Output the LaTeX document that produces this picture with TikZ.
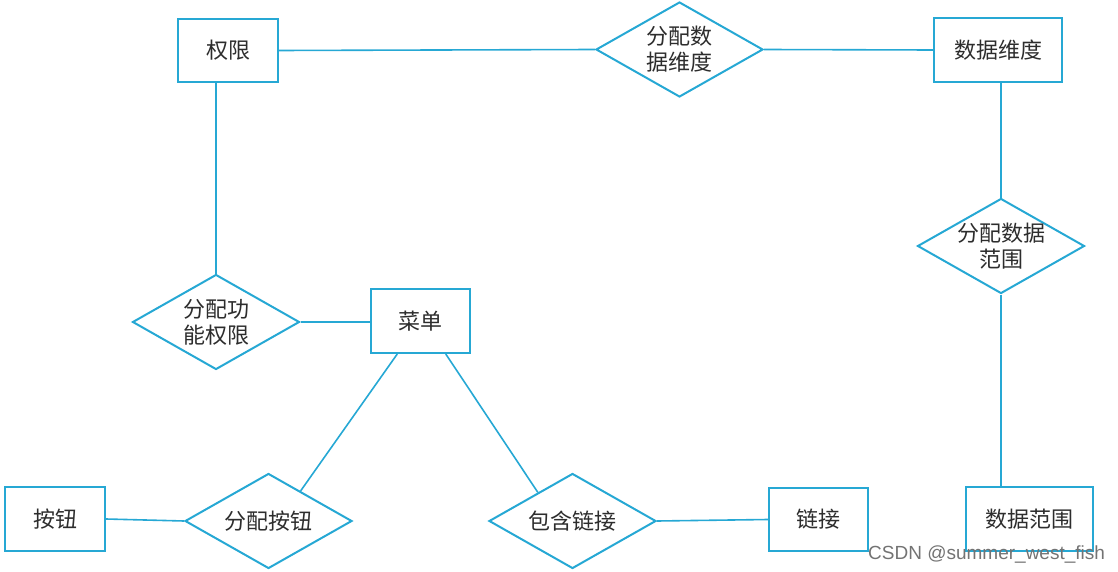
\documentclass[tikz,border=0pt]{standalone}
\usepackage{fontspec}
\newfontfamily\cjk{Noto Sans CJK SC}
\newfontfamily\wm{Liberation Sans}
\usetikzlibrary{shapes.geometric,calc}
\definecolor{erblue}{RGB}{38,168,212}
\definecolor{txt}{RGB}{45,45,45}
\tikzset{
  ent/.style={draw=erblue, line width=2pt, fill=white, inner sep=0pt, font=\cjk\fontsize{22}{26}\selectfont, text=txt, align=center},
  rel/.style={draw=erblue, line width=2pt, fill=white, diamond, inner sep=0pt, minimum width=167pt, minimum height=95pt},
  rtext/.style={font=\cjk\fontsize{22}{26}\selectfont, text=txt, align=center, inner sep=0pt},
  conn/.style={draw=erblue, line width=1.6pt}
}
\begin{document}
\begin{tikzpicture}[x=1pt,y=-1pt]
\useasboundingbox (0,0) rectangle (1118,572);
% entities
\node[ent, minimum width=100pt, minimum height=63pt] (qx) at (228,50.5) {权限};
\node[ent, minimum width=128pt, minimum height=64pt] (sjwd) at (998,50) {数据维度};
\node[ent, minimum width=99pt, minimum height=64pt] (cd) at (420.5,321) {菜单};
\node[ent, minimum width=100pt, minimum height=64pt] (an) at (55,519) {按钮};
\node[ent, minimum width=99pt, minimum height=63pt] (lj) at (818.5,519.5) {链接};
\node[ent, minimum width=127pt, minimum height=64pt] (sjfw) at (1029.5,519) {数据范围};
% relationships
\node[rel, label={[rtext]center:{分配数\\据维度}}] (fpwd) at (679.5,49.5) {};
\node[rel, label={[rtext]center:{分配数据\\范围}}] (fpfw) at (1001,246) {};
\node[rel, label={[rtext]center:{分配功\\能权限}}] (fpgn) at (216,322) {};
\node[rel, label={[rtext]center:{分配按钮}}] (fpan) at (268.5,521) {};
\node[rel, label={[rtext]center:{包含链接}}] (bhlj) at (572.5,521) {};
% connectors
\draw[conn] (qx.east) -- (fpwd.west);
\draw[conn] (fpwd.east) -- (sjwd.west);
\draw[conn] (sjwd.south -| fpfw.north) -- (fpfw.north);
\draw[conn] (fpfw.south) -- (sjfw.north -| fpfw.south);
\draw[conn] (qx.south -| fpgn.north) -- (fpgn.north);
\draw[conn] (fpgn.east) -- (cd.west |- fpgn.east);
\draw[conn] ($(cd.south west)!0.27!(cd.south east)$) -- ($(fpan.north)!0.38!(fpan.east)$);
\draw[conn] ($(cd.south west)!0.75!(cd.south east)$) -- ($(bhlj.north)!0.41!(bhlj.west)$);
\draw[conn] (an.east) -- (fpan.west);
\draw[conn] (bhlj.east) -- (lj.west);
% watermark
\node[anchor=base west, inner sep=0pt, text=black!55, font=\wm\fontsize{19}{21}\selectfont] (wmk) at (868,559) {CSDN @summer\_west\_fish};
\end{tikzpicture}
\end{document}
